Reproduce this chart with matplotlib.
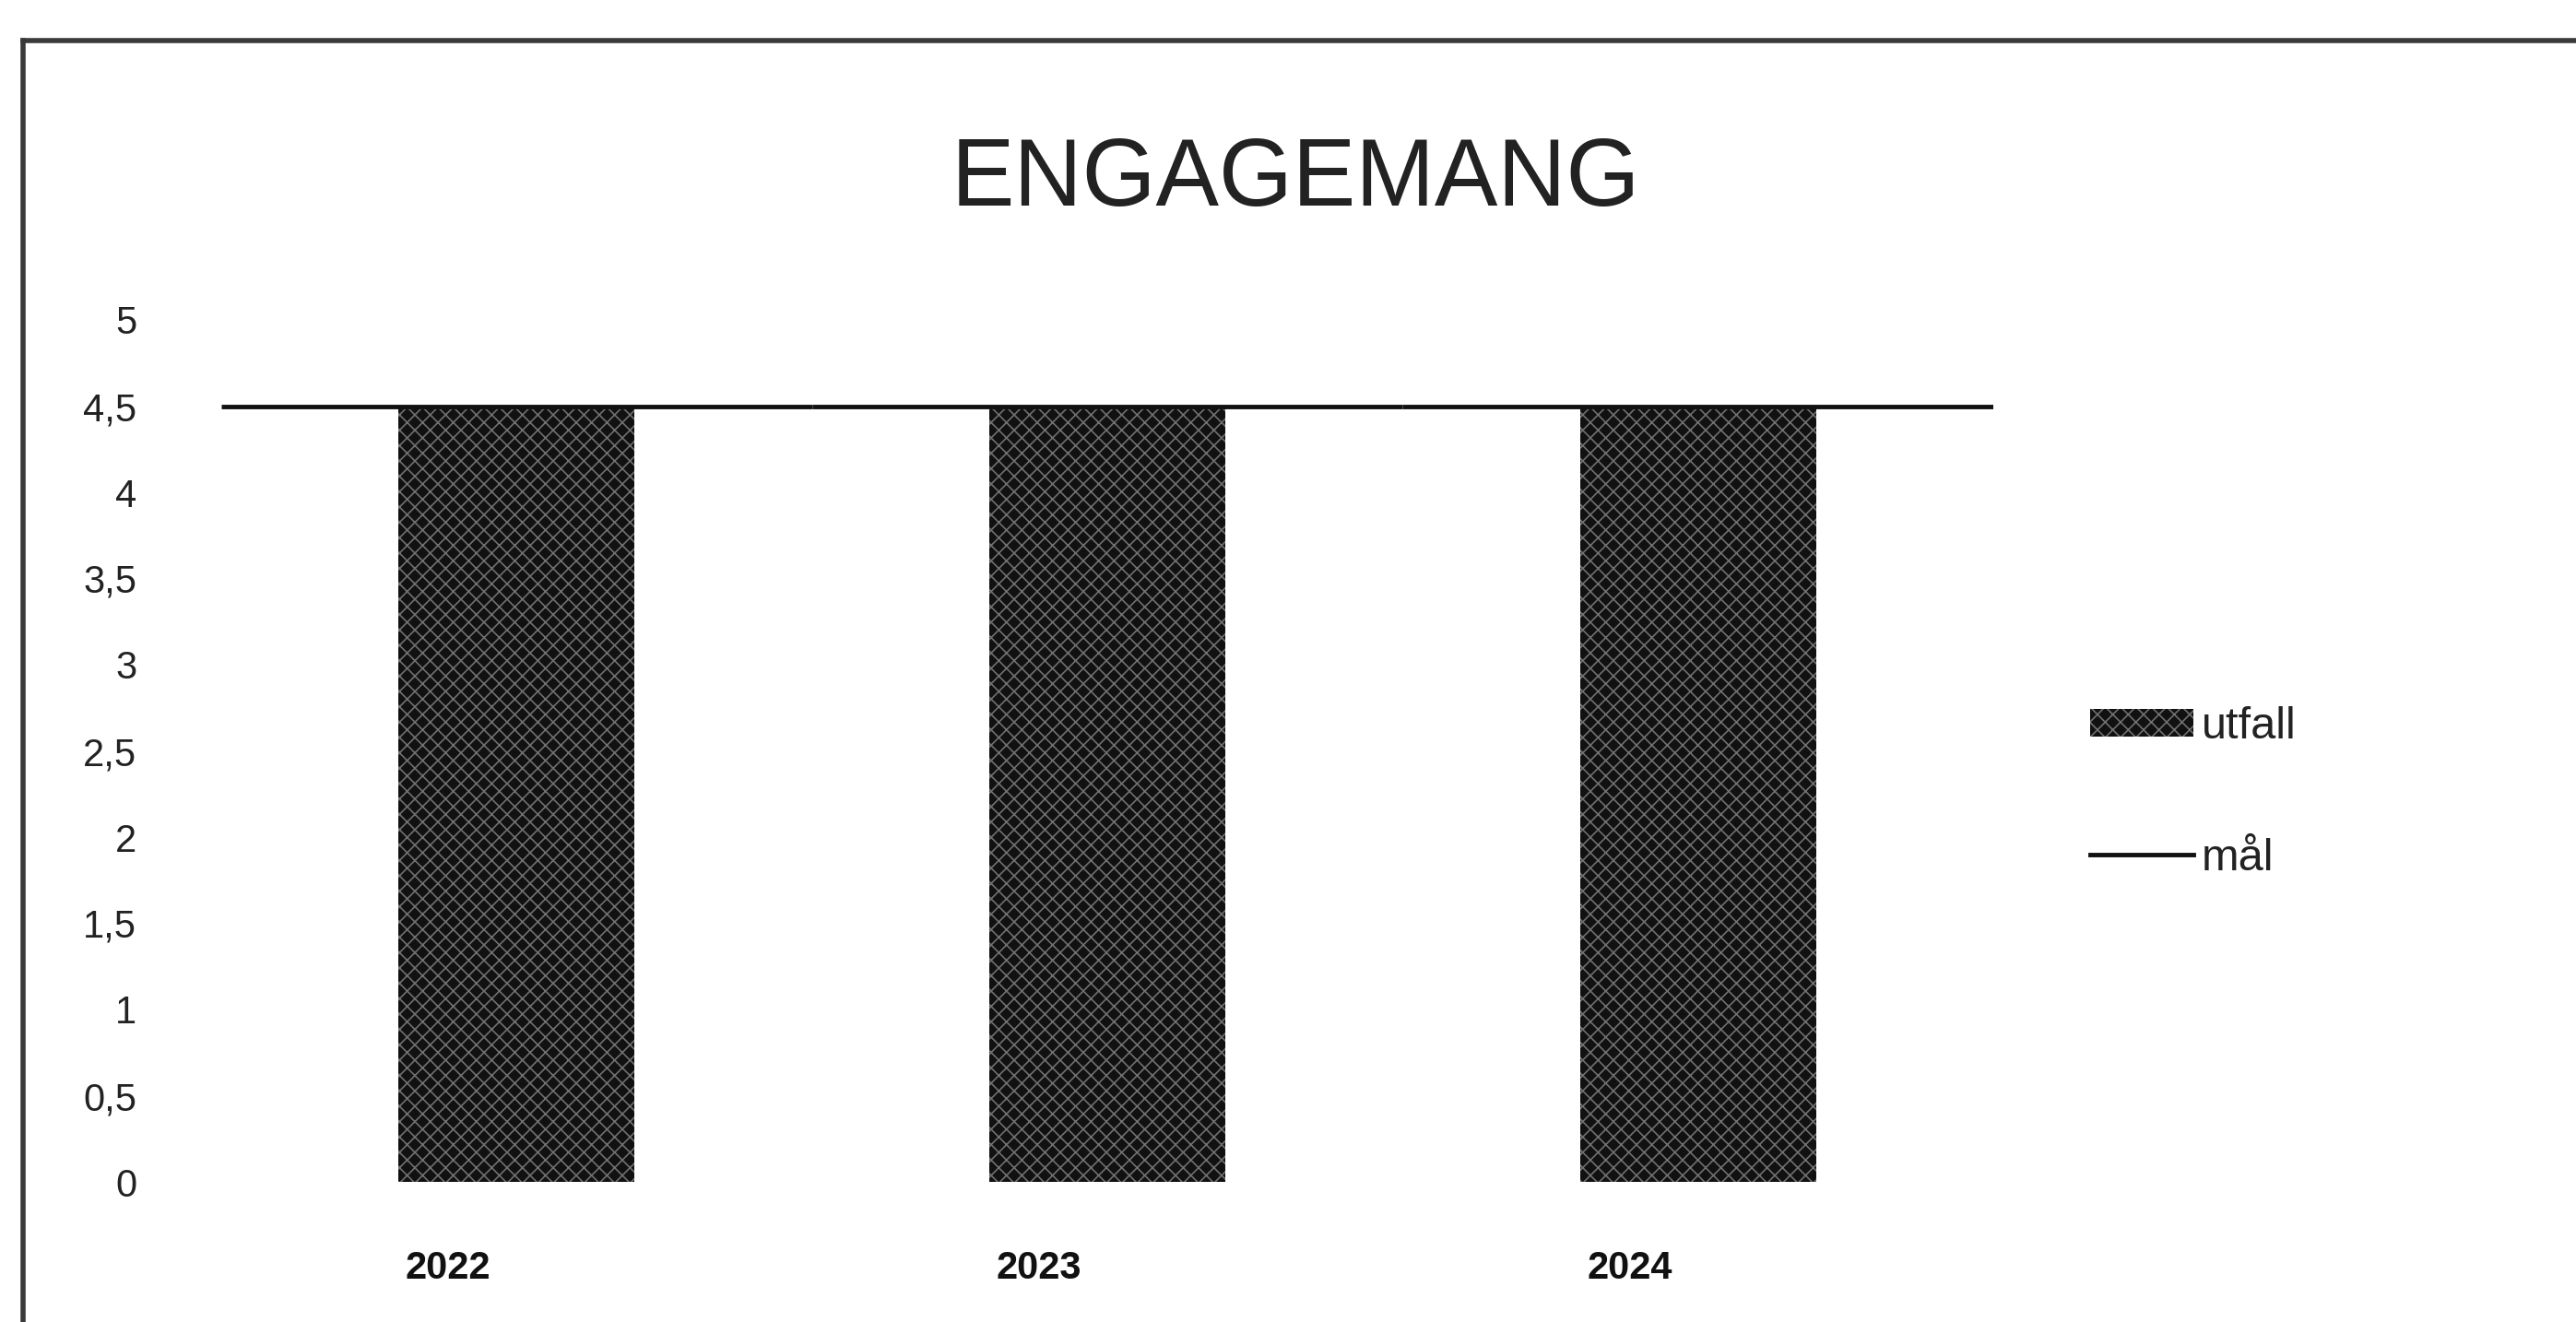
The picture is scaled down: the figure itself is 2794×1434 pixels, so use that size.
import matplotlib
matplotlib.use("Agg")
import matplotlib.pyplot as plt
from matplotlib.lines import Line2D
import numpy as np

# ---- data ----
years = ["2022", "2023", "2024"]
utfall = [4.5, 4.5, 4.5]
mal = [4.5, 4.5, 4.5]
yticks = [0, 0.5, 1, 1.5, 2, 2.5, 3, 3.5, 4, 4.5, 5]
ytick_labels = ["0", "0,5", "1", "1,5", "2", "2,5", "3", "3,5", "4", "4,5", "5"]
title = "ENGAGEMANG"

plt.rcParams['font.family'] = ['Liberation Sans', 'DejaVu Sans']
plt.rcParams['hatch.linewidth'] = 1.2

W, H = 2794, 1434
fig = plt.figure(figsize=(W / 100, H / 100), dpi=100)
fig.patch.set_facecolor("white")

ax = fig.add_axes([240 / W, 152 / H, (2162 - 240) / W, (1282 - 347) / H])
x = np.arange(len(years))
bar_w = 0.4

bars = ax.bar(x, utfall, width=bar_w, color="#111111", edgecolor="#707070",
              linewidth=0, hatch="xx", label="utfall", zorder=2)
ax.hlines(mal, x - 0.5, x + 0.5, colors="#111111", linewidth=3.5,
          zorder=3)

ax.set_xlim(-0.5, 2.5)
ax.set_ylim(0, 5)
ax.set_yticks(yticks)
ax.set_yticklabels(ytick_labels, fontsize=30, color="#222222")
# year labels sit left-aligned just inside the bars' left edges, as in the source chart
ax.set_xticks(x - bar_w / 2 + 0.012)
ax.set_xticklabels(years, fontsize=30, fontweight="bold", color="#111111",
                   ha="left")
ax.tick_params(axis="y", length=0, pad=66)
ax.tick_params(axis="x", length=0, pad=53)
for s in ax.spines.values():
    s.set_visible(False)

# legend
mal_handle = Line2D([0], [0], color="#111111", linewidth=3.5)
leg = fig.legend([bars, mal_handle], ["utfall", "mål"], loc="center left",
                 bbox_to_anchor=(2267 / W, 1 - 860 / H), frameon=False,
                 fontsize=35, handlelength=2.3, handleheight=0.58,
                 handletextpad=0.18, labelspacing=2.0, borderpad=0,
                 borderaxespad=0)
for t in leg.get_texts():
    t.set_color("#222222")

# title
fig.text(0.503, 1 - 197 / H, title, ha="center", va="center", fontsize=74,
         color="#222222")

# frame border (top and left edges visible)
fig.add_artist(Line2D([25 / W, 1.0], [1 - 44 / H, 1 - 44 / H],
                      transform=fig.transFigure, color="#3a3a3a", linewidth=4))
fig.add_artist(Line2D([25 / W, 25 / W], [0, 1 - 44 / H],
                      transform=fig.transFigure, color="#3a3a3a", linewidth=4))

fig.savefig("out.png", dpi=100)
